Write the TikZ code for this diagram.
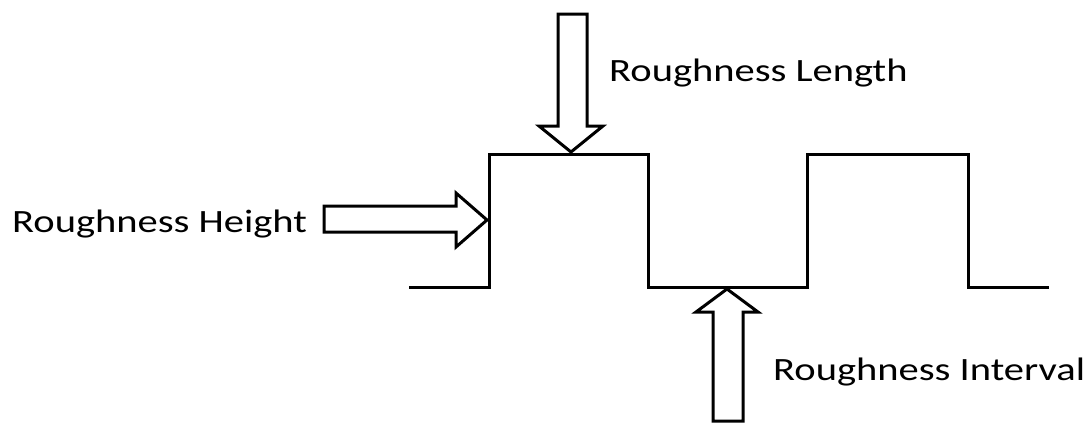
\documentclass[tikz,border=0pt]{standalone}
\usepackage{fontspec}
\usepackage{graphicx}
\setmainfont{Carlito}
\newcommand{\widetext}[1]{\scalebox{1.247}[1]{#1}}
\begin{document}
\begin{tikzpicture}[x=1pt,y=-1pt,
  wave/.style={line width=3pt, line join=miter},
  blockarrow/.style={line width=3pt, line join=miter, fill=white},
  lbl/.style={anchor=base west, inner sep=0pt, font=\fontsize{32.5}{38}\selectfont}]
\useasboundingbox (0,0) rectangle (1090,423);
% waveform
\draw[wave] (409,287) -- (489,287) -- (489,154) -- (648,154) -- (648,287)
  -- (807,287) -- (807,154) -- (968,154) -- (968,287) -- (1049,287);
% down arrow (length)
\draw[blockarrow] (558,14) -- (587,14) -- (587,126) -- (603,126) -- (571,152)
  -- (539,126) -- (558,126) -- cycle;
% right arrow (height)
\draw[blockarrow] (324,206) -- (456,206) -- (456,193) -- (487,220) -- (456,247)
  -- (456,232) -- (324,232) -- cycle;
% up arrow (interval)
\draw[blockarrow] (713,421) -- (743,421) -- (743,312) -- (758,312) -- (727,289)
  -- (696,312) -- (713,312) -- cycle;
% labels
\node[lbl] (len) at (609,81) {\widetext{Roughness Length}};
\node[lbl] (hgt) at (12,232) {\widetext{Roughness Height}};
\node[lbl] (int) at (773,380) {\widetext{Roughness Interval}};
\end{tikzpicture}
\end{document}
